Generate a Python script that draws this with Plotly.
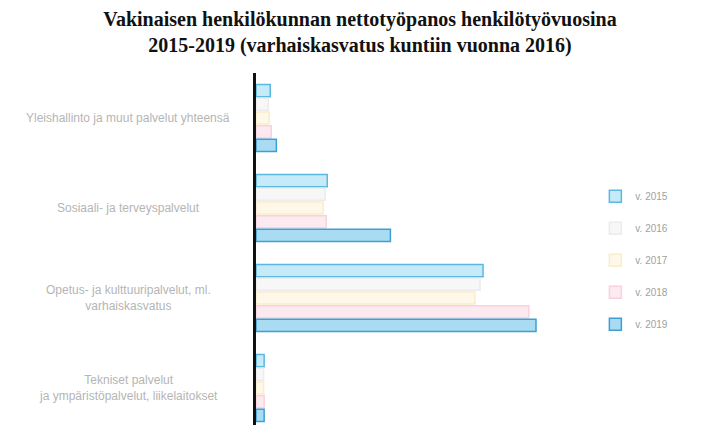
import plotly.graph_objects as go

categories = [
    "Yleishallinto ja muut palvelut yhteensä",
    "Sosiaali- ja terveyspalvelut",
    "Opetus- ja kulttuuripalvelut, ml.<br>varhaiskasvatus",
    "Tekniset palvelut<br>ja ympäristöpalvelut, liikelaitokset",
]

years = ["v. 2015", "v. 2016", "v. 2017", "v. 2018", "v. 2019"]

v2015 = [56, 280, 892, 32]
v2016 = [48, 272, 880, 30]
v2017 = [52, 264, 860, 30]
v2018 = [60, 276, 1072, 32]
v2019 = [80, 528, 1100, 32]

values = [v2015, v2016, v2017, v2018, v2019]
fills = ["#c6eaf8", "#f7f7f7", "#fff8e8", "#fdeaf0", "#a9dcf3"]
edges = ["#5bb8e0", "#ececec", "#faeccc", "#f8d2de", "#3d9fd6"]

fig = go.Figure()

for i, name in enumerate(years):
    fig.add_trace(go.Bar(
        y=categories,
        x=values[i],
        orientation="h",
        name=name,
        legendgroup=name,
        marker=dict(color=fills[i], line=dict(color=edges[i], width=1.5)),
    ))

# category labels centred like the original
for c in categories:
    fig.add_annotation(
        x=-0.38, xref="paper", y=c, yref="y",
        text=c, showarrow=False, align="center", xanchor="center",
        font=dict(family="Liberation Sans", size=12, color="#b5b5b5"),
    )

fig.update_layout(
    width=704, height=425,
    paper_bgcolor="white", plot_bgcolor="white",
    margin=dict(l=248, r=120, t=65, b=0),
    title=dict(
        text="<b>Vakinaisen henkilökunnan nettotyöpanos henkilötyövuosina<br>2015-2019 (varhaiskasvatus kuntiin vuonna 2016)</b>",
        x=0.5, xanchor="center", y=0.958, yanchor="top",
        font=dict(family="Liberation Serif", size=20, color="#111111"),
    ),
    barmode="group",
    bargap=0.24,
    bargroupgap=0.12,
    showlegend=True,
    legend=dict(
        x=1.01, xanchor="left", y=0.48, yanchor="middle",
        font=dict(family="Liberation Sans", size=10, color="#a0a0a0"),
        tracegroupgap=13,
        traceorder="grouped",
    ),
    xaxis=dict(visible=False, range=[0, 1320]),
    yaxis=dict(
        autorange="reversed", showticklabels=False, showgrid=False,
        showline=True, linecolor="#111111", linewidth=3, ticks="",
    ),
)

fig.write_html("out.html")
